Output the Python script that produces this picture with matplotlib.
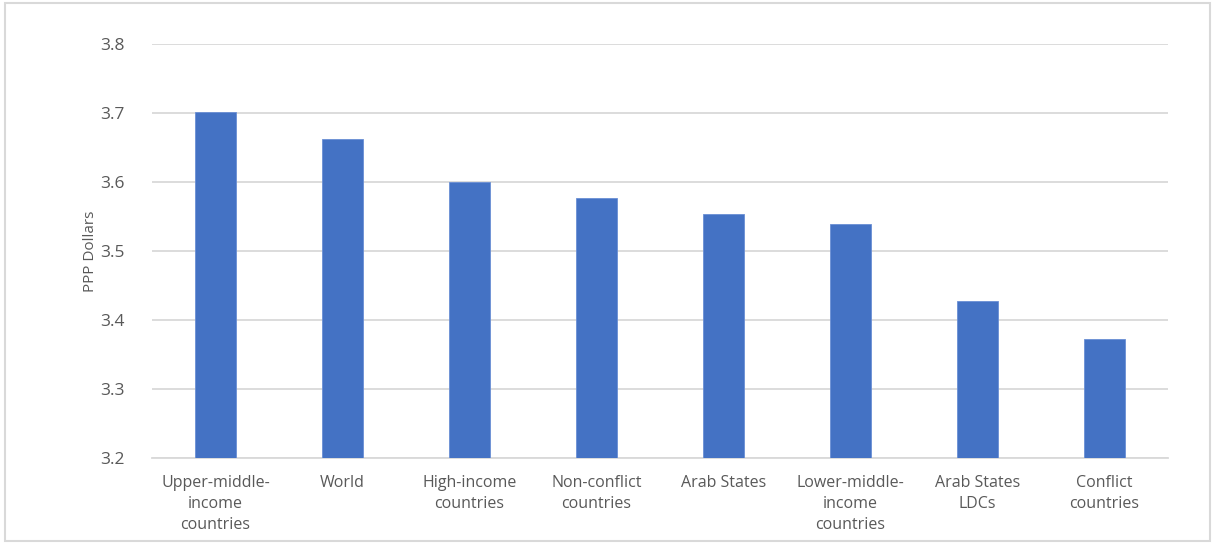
import matplotlib
matplotlib.use("Agg")
import matplotlib.pyplot as plt
from matplotlib.patches import Rectangle

categories = ["Upper-middle-\nincome\ncountries", "World", "High-income\ncountries",
              "Non-conflict\ncountries", "Arab States", "Lower-middle-\nincome\ncountries",
              "Arab States\nLDCs", "Conflict\ncountries"]
values = [3.701, 3.662, 3.600, 3.577, 3.553, 3.539, 3.428, 3.373]
yticks = [3.2, 3.3, 3.4, 3.5, 3.6, 3.7, 3.8]
ylabel = "PPP Dollars"

plt.rcParams['font.family'] = ['Open Sans', 'DejaVu Sans']
text_color = "#595959"
grid_color = "#D9D9D9"

fig = plt.figure(figsize=(12.15, 5.43), dpi=100)
fig.patches.append(Rectangle((0.004, 0.004), 0.992, 0.99, transform=fig.transFigure,
                             fill=False, edgecolor="#D9D9D9", linewidth=1.5))
ax = fig.add_axes([152/1215, 1 - 458/543, (1168-152)/1215, (458-44)/543])

x = list(range(len(categories)))
ax.bar(x, [v - 3.2 for v in values], bottom=3.2, width=0.315, color="#4472C4", zorder=3,
       edgecolor="#6A8FD4", linewidth=0.6)
ax.set_xlim(-0.5, len(categories) - 0.5)
ax.set_ylim(3.2, 3.8)
ax.set_yticks(yticks)
ax.set_yticklabels([f"{t:.1f}" for t in yticks], fontsize=12.5, color=text_color)
ax.set_xticks(x)
ax.set_xticklabels(categories, fontsize=11.5, color=text_color, linespacing=1.45, va="top")
ax.tick_params(axis="both", length=0)
ax.tick_params(axis="y", pad=20)
ax.tick_params(axis="x", pad=12)
ax.grid(axis="y", color=grid_color, linewidth=1.3, zorder=0)
for s in ["top", "right", "left"]:
    ax.spines[s].set_visible(False)
ax.spines["bottom"].set_color(grid_color)
ax.spines["bottom"].set_linewidth(1.3)
ax.set_ylabel(ylabel, fontsize=11, color=text_color, labelpad=1)

fig.savefig("out.png", dpi=100)
